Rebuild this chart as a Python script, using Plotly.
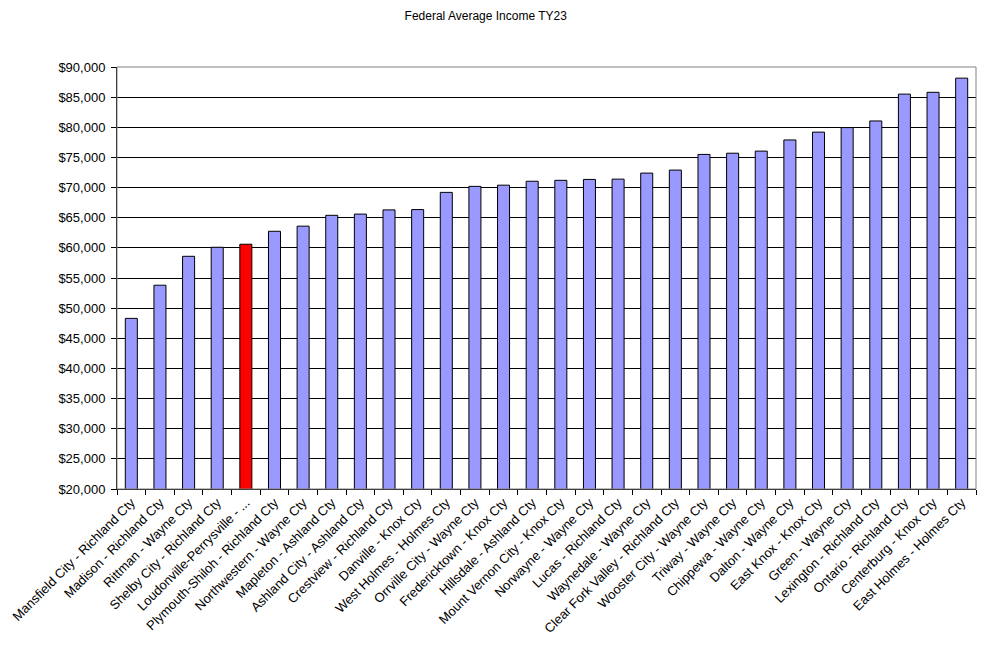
import plotly.graph_objects as go

districts = [
    "Mansfield City - Richland Cty",
    "Madison - Richland Cty",
    "Rittman - Wayne Cty",
    "Shelby City - Richland Cty",
    "Loudonville-Perrysville - ...",
    "Plymouth-Shiloh - Richland Cty",
    "Northwestern - Wayne Cty",
    "Mapleton - Ashland Cty",
    "Ashland City - Ashland Cty",
    "Crestview - Richland Cty",
    "Danville - Knox Cty",
    "West Holmes - Holmes Cty",
    "Orrville City - Wayne Cty",
    "Fredericktown - Knox Cty",
    "Hillsdale - Ashland Cty",
    "Mount Vernon City - Knox Cty",
    "Norwayne - Wayne Cty",
    "Lucas - Richland Cty",
    "Waynedale - Wayne Cty",
    "Clear Fork Valley - Richland Cty",
    "Wooster City - Wayne Cty",
    "Triway - Wayne Cty",
    "Chippewa - Wayne Cty",
    "Dalton - Wayne Cty",
    "East Knox - Knox Cty",
    "Green - Wayne Cty",
    "Lexington - Richland Cty",
    "Ontario - Richland Cty",
    "Centerburg - Knox Cty",
    "East Holmes - Holmes Cty",
]

avg_income = [
    48300, 53800, 58600, 60100, 60600, 62750, 63600, 65400, 65600, 66300,
    66350, 69200, 70200, 70400, 71050, 71200, 71350, 71400, 72400, 72900,
    75500, 75700, 76050, 77900, 79200, 79950, 81050, 85500, 85800, 88150,
]

highlight = "Loudonville-Perrysville - ..."

BAR_BLUE = "#9999FF"
BAR_RED = "#FF0000"
colors = [BAR_RED if d == highlight else BAR_BLUE for d in districts]

fig = go.Figure()
fig.add_trace(go.Bar(
    x=districts,
    y=avg_income,
    marker=dict(color=colors, line=dict(color="black", width=1)),
    showlegend=False,
))

# grey plot-area border, like the spreadsheet original
fig.add_shape(
    type="rect", xref="paper", yref="paper",
    x0=0, x1=1, y0=0, y1=1,
    line=dict(color="#808080", width=1),
    layer="above",
)

# page body adds an 8px margin, so the figure is 8px smaller than the window
fig.update_layout(
    title=dict(
        text="Federal Average Income TY23",
        x=0.489, xanchor="center", y=0.9875, yanchor="middle",
        font=dict(size=12, color="black"),
    ),
    width=977, height=639,
    plot_bgcolor="white",
    paper_bgcolor="white",
    font=dict(family="Arial, Liberation Sans, sans-serif", size=13, color="black"),
    bargap=0.58,
    margin=dict(l=109, r=9, t=59, b=158),
    xaxis=dict(
        type="category",
        tickangle=-45,
        ticks="outside", ticklen=5, tickcolor="black",
        tickson="boundaries",
        showline=True, linecolor="black", linewidth=1,
        showgrid=False,
        tickfont=dict(size=13),
        automargin=False,
    ),
    yaxis=dict(
        range=[20000, 90000],
        dtick=5000,
        tickprefix="$", tickformat=",",
        ticks="outside", ticklen=5, tickcolor="black",
        ticklabelstandoff=3,
        showline=True, linecolor="black", linewidth=1,
        showgrid=True, gridcolor="black", gridwidth=1,
        zeroline=False,
        tickfont=dict(size=13),
        automargin=False,
    ),
)

fig.write_html("out.html")
